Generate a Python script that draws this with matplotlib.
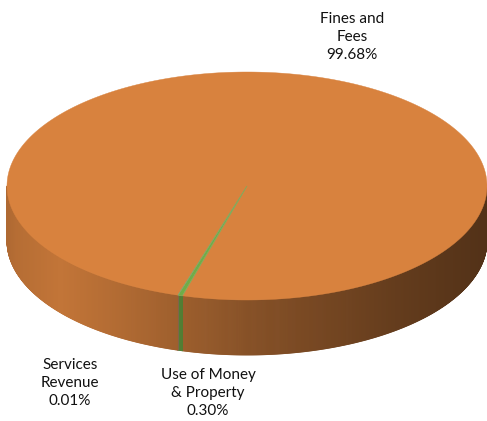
import numpy as np
import matplotlib
matplotlib.use("Agg")
import matplotlib.pyplot as plt
from matplotlib.collections import PolyCollection
from matplotlib.patches import Polygon

# Revenue share by category (percent)
categories = ["Fines and\nFees", "Use of Money\n& Property", "Services\nRevenue"]
shares = [99.68, 0.30, 0.01]
colors = ["#D8823E", "#70AD47", "#5B9BD5"]

plt.rcParams["font.family"] = ["Lato", "DejaVu Sans"]

W, H = 487, 421
fig = plt.figure(figsize=(W / 100, H / 100), dpi=100)
ax = fig.add_axes([0, 0, 1, 1])
ax.set_xlim(0, W)
ax.set_ylim(H, 0)
ax.axis("off")

# pie geometry in pixel space (screen y downwards, angles clockwise)
cx, cy = 247.0, 186.0
a, b = 240.0, 114.0
depth = 55.0
first_slice_end = 106.7 - 0.30 / sum(shares) * 360  # where the green slice begins

total = sum(shares)
spans = [s / total * 360 for s in shares]
# order around the pie: Fines, Use of Money, Services (clockwise)
starts = []
ang = first_slice_end - spans[0]
for sp in spans:
    starts.append(ang)
    ang += sp


def slice_index(phi):
    for i, (s0, sp) in enumerate(zip(starts, spans)):
        d = (phi - s0) % 360
        if d < sp:
            return i
    return 0


def pt(phi_deg):
    p = np.radians(phi_deg)
    return cx + a * np.cos(p), cy + b * np.sin(p)


def shade(x):
    xs = [0, 15, 60, 120, 250, 400, 487]
    fs = [0.78, 0.84, 0.90, 0.82, 0.62, 0.46, 0.38]
    return np.interp(x, xs, fs)


def rgb(c):
    return np.array(matplotlib.colors.to_rgb(c))


# side wall: front half of the ellipse
bounds = [0.0, 180.0]
for s0, sp in zip(starts, spans):
    for e in (s0, s0 + sp):
        e = e % 360
        if 0 < e < 180:
            bounds.append(e)
grid = np.union1d(np.linspace(0, 180, 721), bounds)
polys, fcs = [], []
for p0, p1 in zip(grid[:-1], grid[1:]):
    if p1 - p0 <= 1e-9:
        continue
    x0, y0 = pt(p0)
    x1, y1 = pt(p1)
    polys.append([(x0, y0), (x1, y1), (x1, y1 + depth), (x0, y0 + depth)])
    mid = 0.5 * (p0 + p1)
    xm, _ = pt(mid)
    c = rgb(colors[slice_index(mid)]) * shade(xm)
    fcs.append(np.clip(c, 0, 1))
ax.add_collection(PolyCollection(polys, facecolors=fcs, edgecolors=fcs,
                                 linewidths=0.6, antialiased=True))

# top face: one wedge per slice
for s0, sp, col in zip(starts, spans, colors):
    n = max(3, int(sp * 4))
    phis = np.linspace(s0, s0 + sp, n)
    verts = [(cx, cy)] + [pt(p) for p in phis]
    big = sp > 5
    ax.add_patch(Polygon(verts, closed=True, facecolor=col,
                         edgecolor=col if big else "#86A85A",
                         linewidth=0.3 if big else (0.6 if sp > 0.5 else 0.0),
                         zorder=3 if big else 4))

# data labels
label_pos = [(352, 37), (208, 393), (70, 383)]
for cat, val, (lx, ly) in zip(categories, shares, label_pos):
    ax.text(lx, ly, f"{cat}\n{val:.2f}%", ha="center", va="center",
            fontsize=11, color="#111111", linespacing=1.38, zorder=5)

fig.savefig("out.png", dpi=100)
